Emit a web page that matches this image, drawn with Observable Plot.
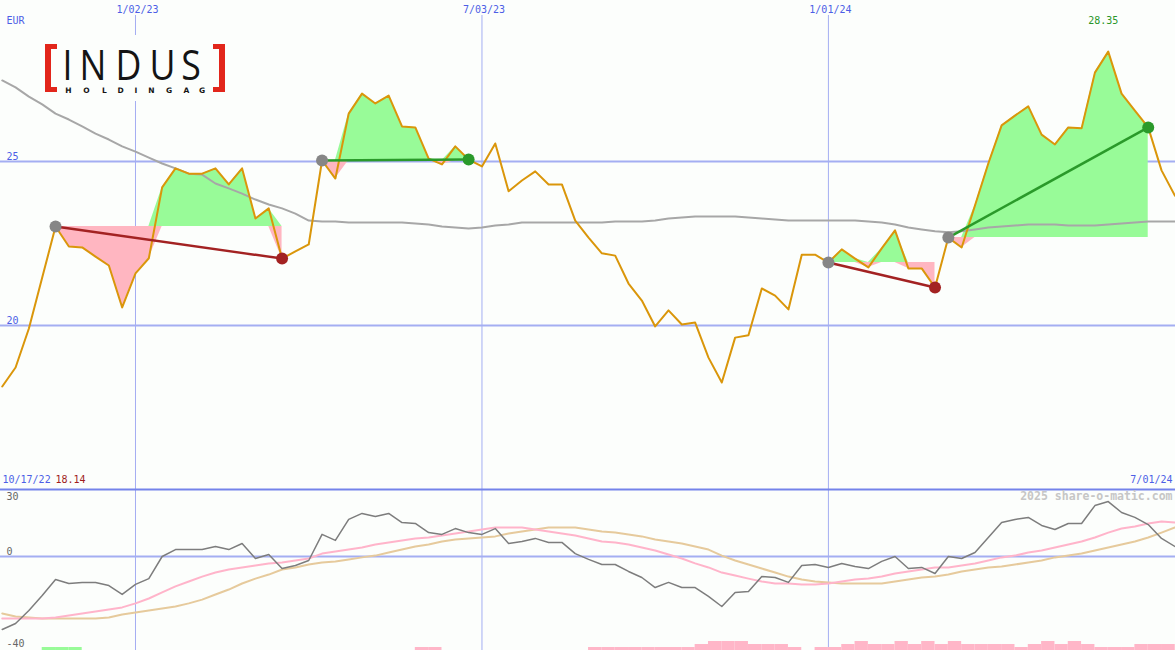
<!DOCTYPE html>
<html>
<head>
<meta charset="utf-8">
<script src="https://cdn.jsdelivr.net/npm/d3@7"></script>
<script src="https://cdn.jsdelivr.net/npm/@observablehq/plot@0.6"></script>
<style>
  html, body { margin: 0; padding: 0; background: #fcfefc; }
  #chart { position: relative; width: 1175px; height: 650px; overflow: hidden; background: #fcfefc; }
  #chart > svg { position: absolute; }
</style>
</head>
<body>
<div id="chart"></div>
<script>
// ---------------- DATA ----------------
const firstWeek = "2022-10-24";   // weekly (Monday) observations
const lastWeek  = "2024-07-01";

// weekly closing price, EUR
const price = [
  18.14, 18.72, 19.91, 21.46, 23.02, 22.41, 22.38, 22.10, 21.83, 20.55,
  21.59, 22.05, 24.21, 24.79, 24.63, 24.63, 24.79, 24.30, 24.79, 23.26,
  23.57, 22.04, 22.26, 22.47, 25.03, 24.48, 26.46, 27.07, 26.77, 27.01,
  26.07, 26.04, 25.09, 24.91, 25.46, 25.06, 24.85, 25.55, 24.09, 24.42,
  24.70, 24.30, 24.30, 23.20, 22.68, 22.20, 22.13, 21.28, 20.76, 19.97,
  20.46, 20.03, 20.09, 19.02, 18.26, 19.63, 19.70, 21.13, 20.91, 20.49,
  22.16, 22.16, 21.92, 22.32, 22.04, 21.77, 22.35, 22.90, 21.74, 21.74,
  21.16, 22.68, 22.38, 23.66, 24.94, 26.10, 26.40, 26.68, 25.82, 25.52,
  26.04, 26.01, 27.71, 28.35, 27.07, 26.55, 26.04, 24.73, 23.96
];

// long moving average (grey)
const movingAvg = [
  27.47, 27.26, 26.98, 26.74, 26.46, 26.28, 26.07, 25.85, 25.67, 25.46,
  25.30, 25.12, 24.94, 24.79, 24.63, 24.60, 24.33, 24.18, 24.02, 23.84,
  23.69, 23.57, 23.41, 23.20, 23.17, 23.17, 23.14, 23.14, 23.14, 23.14,
  23.14, 23.11, 23.08, 23.02, 22.99, 22.96, 22.99, 23.05, 23.08, 23.14,
  23.14, 23.14, 23.14, 23.14, 23.14, 23.14, 23.17, 23.17, 23.17, 23.20,
  23.26, 23.29, 23.32, 23.32, 23.32, 23.32, 23.29, 23.26, 23.23, 23.20,
  23.20, 23.20, 23.20, 23.20, 23.20, 23.17, 23.14, 23.08, 22.99, 22.93,
  22.87, 22.84, 22.87, 22.93, 22.99, 23.02, 23.05, 23.08, 23.08, 23.08,
  23.05, 23.05, 23.05, 23.08, 23.11, 23.14, 23.17, 23.17, 23.17
];

// lower panel: momentum (grey) and its two signal lines (pink, tan)
const momentum = [
  -32.7, -30.0, -24.2, -17.5, -10.3, -12.1, -11.6, -11.6, -13.0, -17.0,
  -12.5, -9.9, 0.0, 3.1, 3.1, 3.1, 4.5, 3.1, 5.8, -0.9,
  0.9, -5.4, -4.0, -1.8, 9.9, 7.2, 16.6, 19.3, 17.9, 19.3,
  15.2, 14.8, 10.7, 9.9, 12.5, 10.7, 9.9, 12.5, 5.8, 6.7,
  8.1, 6.3, 6.3, 1.3, -1.3, -3.6, -3.6, -6.7, -9.4, -13.9,
  -11.6, -13.9, -13.9, -17.9, -22.4, -16.1, -15.7, -9.0, -9.4, -11.6,
  -4.0, -3.6, -4.9, -3.1, -4.5, -5.4, -2.2, 0.0, -5.4, -4.9,
  -7.6, 0.0, -0.9, 1.8, 8.5, 15.2, 16.6, 17.5, 13.9, 12.1,
  14.8, 14.8, 22.8, 24.6, 19.7, 17.5, 14.3, 8.1, 4.5
];
const signalFast = [
  -27.8, -27.8, -27.8, -27.8, -27.3, -26.4, -25.5, -24.6, -23.7, -22.8,
  -21.0, -18.8, -16.1, -13.4, -11.2, -9.0, -7.2, -5.8, -4.9, -4.0,
  -3.1, -2.7, -1.8, -0.9, 1.3, 2.2, 3.1, 4.0, 5.4, 6.3,
  7.2, 8.1, 8.5, 9.4, 10.3, 11.2, 12.1, 13.0, 13.0, 13.0,
  12.1, 11.2, 10.3, 9.4, 8.1, 6.7, 6.3, 5.4, 4.0, 2.7,
  0.9, -0.9, -3.1, -4.9, -7.2, -8.5, -9.9, -11.2, -12.1, -12.1,
  -12.5, -12.5, -12.1, -11.2, -10.3, -9.9, -9.0, -7.6, -6.7, -5.8,
  -4.9, -4.9, -4.0, -3.1, -1.8, -0.4, 0.4, 1.8, 2.7, 4.0,
  5.4, 6.7, 8.5, 10.7, 12.5, 13.4, 14.8, 15.7, 15.2
];
const signalSlow = [
  -25.5, -26.9, -27.3, -27.8, -27.8, -27.8, -27.8, -27.8, -27.3, -26.0,
  -25.1, -24.2, -23.3, -22.4, -21.0, -19.3, -17.0, -14.8, -12.1, -9.9,
  -8.1, -5.8, -4.9, -3.6, -2.7, -2.2, -1.3, -0.4, 0.4, 1.8,
  3.1, 4.5, 5.4, 6.7, 7.6, 8.1, 8.5, 9.0, 10.3, 11.2,
  12.1, 13.0, 13.0, 13.0, 12.1, 11.2, 10.7, 9.9, 9.0, 7.6,
  6.7, 5.8, 4.5, 3.1, 0.4, -1.8, -3.6, -5.4, -7.2, -9.0,
  -10.3, -11.2, -11.6, -12.1, -12.1, -12.1, -12.1, -11.2, -10.3, -9.4,
  -9.0, -8.1, -6.7, -5.8, -4.9, -4.5, -3.6, -2.7, -1.8, -0.4,
  0.4, 1.3, 2.7, 4.0, 5.4, 6.7, 8.5, 10.7, 13.0
];
// signal strength bars at the foot of the lower panel (0..3)
const barPink = [
  0,0,0,0,0,0,0,0,0,0,
  0,0,0,0,0,0,0,0,0,0,
  0,0,0,0,0,0,0,0,0,0,
  0,1,1,0,0,0,0,0,0,0,
  0,0,0,0,1,1,1,1,1,1,
  1,1,2,3,3,3,2,2,2,1,
  0,1,1,2,3,2,2,3,2,3,
  2,3,2,2,2,2,1,2,3,2,
  3,2,1,1,1,2,2,2,2
];
const barGreen = [
  0,0,0,1,1,1,0,0,0,0,
  0,0,0,0,0,0,0,0,0,0,
  0,0,0,0,0,0,0,0,0,0,
  0,0,0,0,0,0,0,0,0,0,
  0,0,0,0,0,0,0,0,0,0,
  0,0,0,0,0,0,0,0,0,0,
  0,0,0,0,0,0,0,0,0,0,
  0,0,0,0,0,0,0,0,0,0,
  0,0,0,0,0,0,0,0,0
];

// trades: entry and exit weeks
const tradeEntry = ["2022-11-21", "2023-04-10", "2024-01-01", "2024-03-04"];
const tradeExit  = ["2023-03-20", "2023-06-26", "2024-02-26", "2024-06-17"];

// axis / labels
const gridDates  = ["2023-01-02", "2023-07-03", "2024-01-01"];
const gridLabels = ["1/02/23", "7/03/23", "1/01/24"];
const priceTicks = [25, 20];
const lowerTicks = [30, 0, -40];
const startLabel = "10/17/22";
const endLabel   = "7/01/24";
const currency   = "EUR";
const credit     = "2025 share-o-matic.com";

// ---------------- BUILD ----------------
const parse = d3.utcParse("%Y-%m-%d");
const weeks = d3.utcMonday.range(parse(firstWeek), d3.utcDay.offset(parse(lastWeek), 1));
const rows = weeks.map((date, i) => ({
  date, next: d3.utcWeek.offset(date, 1),
  price: price[i], ma: movingAvg[i],
  mom: momentum[i], fast: signalFast[i], slow: signalSlow[i],
  pink: barPink[i], green: barGreen[i]
}));
const idxOf = s => weeks.findIndex(d => +d === +parse(s));

const trades = tradeEntry.map((e, t) => {
  const i = idxOf(e), j = idxOf(tradeExit[t]);
  const p0 = price[i], p1 = price[j];
  const seg = rows.slice(i, j + 1).map(r => ({
    date: r.date, base: p0,
    up: Math.max(r.price, p0), down: Math.min(r.price, p0)
  }));
  return {d0: weeks[i], d1: weeks[j], p0, p1, win: p1 > p0, seg};
});

const W = 1175;
const xDomain = [new Date(Date.UTC(2022, 9, 23, 2)), new Date(Date.UTC(2024, 6, 1, 8))];
const gridD = gridDates.map(parse);

const blueText = "#4d5ee6";
const gridCol = "#a4aef2";
const fontFam = "'DejaVu Sans Mono', monospace";

const iMax = d3.maxIndex(price), iMin = d3.minIndex(price);

const topMarks = [
  Plot.ruleY(priceTicks, {stroke: gridCol, strokeWidth: 2}),
  Plot.ruleX(gridD, {stroke: gridCol, strokeWidth: 1, insetTop: 15}),
];
for (const t of trades) {
  topMarks.push(Plot.areaY(t.seg, {x: "date", y1: "base", y2: "up", fill: "#98fb98"}));
  topMarks.push(Plot.areaY(t.seg, {x: "date", y1: "base", y2: "down", fill: "#ffb6c1"}));
}
topMarks.push(
  Plot.line(rows, {x: "date", y: "ma", stroke: "#a7a7a7", strokeWidth: 2}),
  Plot.line(rows, {x: "date", y: "price", stroke: "#da960a", strokeWidth: 2}),
  Plot.link(trades, {x1: "d0", y1: "p0", x2: "d1", y2: "p1",
    stroke: d => d.win ? "#2a9a2a" : "#a32222", strokeWidth: 2.5}),
  Plot.dot(trades, {x: "d0", y: "p0", r: 6, fill: "#868686"}),
  Plot.dot(trades, {x: "d1", y: "p1", r: 6, fill: d => d.win ? "#2a9a2a" : "#a32222"}),
  Plot.text(gridD, {x: d => d, text: (d, i) => gridLabels[i], frameAnchor: "top", lineAnchor: "middle", dx: 2, dy: 9, fill: blueText}),
  Plot.text(priceTicks, {y: d => d, text: d => String(d), frameAnchor: "left", textAnchor: "start", lineAnchor: "middle", dx: 6, dy: -5, fill: blueText}),
  Plot.text([currency], {text: d => d, frameAnchor: "top-left", textAnchor: "start", lineAnchor: "middle", dx: 6, dy: 20, fill: blueText}),
  Plot.text([rows[iMax]], {x: "date", text: d => d.price.toFixed(2), frameAnchor: "top", lineAnchor: "middle", dx: -5, dy: 20, fill: "#2a962a"}),
  Plot.text([startLabel], {text: d => d, frameAnchor: "bottom-left", textAnchor: "start", lineAnchor: "middle", dx: 2, dy: -9, fill: blueText}),
  Plot.text([rows[iMin]], {text: d => d.price.toFixed(2), frameAnchor: "bottom-left", textAnchor: "start", lineAnchor: "middle", dx: 55, dy: -9, fill: "#a01c1c"}),
  Plot.text([endLabel], {text: d => d, frameAnchor: "bottom-right", textAnchor: "end", lineAnchor: "middle", dx: -3, dy: -9, fill: blueText})
);

const topPlot = Plot.plot({
  width: W, height: 488, margin: 0,
  x: {type: "utc", domain: xDomain, axis: null},
  y: {domain: [25 - 327 / 32.8, 25 + 161 / 32.8], axis: null},
  style: {background: "transparent", fontFamily: fontFam, fontSize: "10px"},
  marks: topMarks
});

const yLow = [-42.1, 30.45];
const pxPerUnit = 162 / (yLow[1] - yLow[0]);
const barUnit = 3 / pxPerUnit;
const lowPlot = Plot.plot({
  width: W, height: 162, margin: 0,
  x: {type: "utc", domain: xDomain, axis: null},
  y: {domain: yLow, axis: null},
  style: {background: "transparent", fontFamily: fontFam, fontSize: "10px"},
  marks: [
    Plot.ruleX(gridD, {stroke: gridCol, strokeWidth: 1}),
    Plot.ruleY([0], {stroke: gridCol, strokeWidth: 2}),
    Plot.rect(rows.filter(r => r.pink > 0), {x1: "date", x2: "next", y1: yLow[0], y2: r => yLow[0] + r.pink * barUnit, fill: "#ffb6c8"}),
    Plot.rect(rows.filter(r => r.green > 0), {x1: "date", x2: "next", y1: yLow[0], y2: r => yLow[0] + r.green * barUnit, fill: "#98fb98"}),
    Plot.line(rows, {x: "date", y: "slow", stroke: "#e6ca9c", strokeWidth: 2}),
    Plot.line(rows, {x: "date", y: "fast", stroke: "#ffb4ca", strokeWidth: 2}),
    Plot.line(rows, {x: "date", y: "mom", stroke: "#7d7d7d", strokeWidth: 1.5}),
    Plot.ruleY([yLow[1]], {stroke: "#7483ea", strokeWidth: 2, dy: 1}),
    Plot.text(lowerTicks, {y: d => d, text: d => String(d), frameAnchor: "left", textAnchor: "start", lineAnchor: "middle",
      dx: 6, fill: "#666"}),
    Plot.text([credit], {text: d => d, frameAnchor: "top-right", textAnchor: "end", lineAnchor: "middle", dx: -3, dy: 8,
      fill: "#c6c6c6", fontWeight: "bold", fontSize: 11.5})
  ]
});
// small vertical offsets of the lower tick labels
lowPlot.querySelectorAll("g[aria-label='text']")[0]?.querySelectorAll("text").forEach((el, i) => {
  const off = [7, -5, -2][i];
  el.setAttribute("dy", off + "px");
});

topPlot.style.top = "0px";
topPlot.style.left = "0px";
lowPlot.style.top = "488px";
lowPlot.style.left = "0px";
const chart = document.getElementById("chart");
chart.appendChild(topPlot);
chart.appendChild(lowPlot);

// ---------------- LOGO ----------------
const NS = "http://www.w3.org/2000/svg";
const logo = document.createElementNS(NS, "svg");
logo.setAttribute("width", 196);
logo.setAttribute("height", 66);
logo.style.position = "absolute";
logo.style.left = "38px";
logo.style.top = "35px";
logo.innerHTML = `
<g transform="translate(-38,-35)">
  <rect x="38" y="35" width="196" height="66" fill="#fcfefc"/>
  <g fill="#e2261b">
    <rect x="45" y="44" width="6" height="48"/>
    <rect x="45" y="44" width="12" height="5"/>
    <rect x="45" y="87" width="12" height="5"/>
    <rect x="219" y="44" width="6" height="48"/>
    <rect x="213" y="44" width="12" height="5"/>
    <rect x="213" y="87" width="12" height="5"/>
  </g>
  <g font-family="'Open Sans', sans-serif" font-size="42" fill="#141414" text-anchor="middle">
    <text transform="translate(67.5,80) scale(0.85,1)">I</text>
    <text transform="translate(93,80) scale(0.85,1)">N</text>
    <text transform="translate(128.5,80) scale(0.85,1)">D</text>
    <text transform="translate(162.5,80) scale(0.85,1)">U</text>
    <text transform="translate(191,80) scale(0.85,1)">S</text>
  </g>
  <text font-family="'DejaVu Sans', sans-serif" font-size="7.5" font-weight="bold" fill="#141414" text-anchor="middle"
        x="68.5 86.5 104.5 120.5 136 151.5 169 178 186.5 202" y="92.5" xml:space="preserve">HOLDING AG</text>
</g>`;
chart.appendChild(logo);
</script>
</body>
</html>
